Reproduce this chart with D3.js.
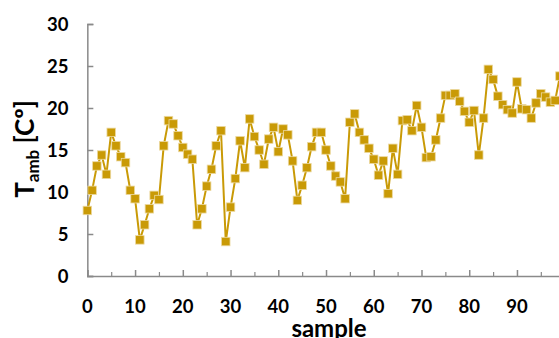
<!DOCTYPE html>
<html>
<head>
<meta charset="utf-8">
<script src="https://cdn.jsdelivr.net/npm/d3@7"></script>
<style>
  html, body { margin: 0; padding: 0; background: #fff; }
  svg { display: block; }
  text { font-family: Lato, "Open Sans", sans-serif; font-weight: bold; fill: #000; }
</style>
</head>
<body>
<svg id="chart" width="559" height="338"></svg>
<script>
// Data
const samples = d3.range(0, 100);
const tamb = [
  7.8, 10.2, 13.1, 14.4, 12.1, 17.1, 15.5, 14.2, 13.5, 10.2,
  9.2, 4.3, 6.1, 8.0, 9.6, 9.1, 15.5, 18.5, 18.1, 16.7,
  15.3, 14.5, 13.9, 6.1, 8.0, 10.7, 12.7, 15.5, 17.3, 4.1,
  8.2, 11.6, 16.1, 12.9, 18.7, 16.6, 15.0, 13.3, 16.3, 17.7,
  14.8, 17.5, 16.8, 13.7, 9.0, 10.8, 12.9, 15.4, 17.1, 17.1,
  15.0, 13.1, 11.9, 11.2, 9.2, 18.3, 19.3, 17.1, 16.2, 15.2,
  13.9, 12.0, 13.7, 9.8, 15.2, 12.1, 18.5, 18.6, 17.3, 20.3,
  17.7, 14.1, 14.2, 16.2, 18.8, 21.5, 21.5, 21.7, 20.8, 19.6,
  18.3, 19.7, 14.4, 18.8, 24.6, 23.4, 21.4, 20.4, 19.8, 19.4,
  23.1, 19.9, 19.8, 18.8, 20.6, 21.7, 21.3, 20.7, 20.9, 23.8
];
const yTicks = [0, 5, 10, 15, 20, 25, 30];
const xMajorTicks = [0, 10, 20, 30, 40, 50, 60, 70, 80, 90, 100];
const xMinorTicks = [5, 15, 25, 35, 45, 55, 65, 75, 85, 95];
const xTitle = "sample";

const svg = d3.select("#chart");
const x = d3.scaleLinear().domain([0, 100]).range([87.33, 564.7]);
const y = d3.scaleLinear().domain([0, 30]).range([276, 24]);

const axisColor = "#8a8a8a";
const markColor = "#C99A06";

// Y axis (ticks inward)
const yAxis = svg.append("g").attr("transform", `translate(${x(0)},0)`)
  .call(d3.axisRight(y).tickValues(yTicks).tickSize(6).tickFormat(""));
yAxis.select(".domain").attr("stroke", axisColor).attr("stroke-width", 1.5);
yAxis.selectAll(".tick line").attr("stroke", axisColor).attr("stroke-width", 1.5);

// Y tick labels
svg.append("g").selectAll("text").data(yTicks).join("text")
  .attr("x", 68.5).attr("y", d => y(d)).attr("dy", "0.36em")
  .attr("text-anchor", "end").style("font-size", "18.5px")
  .text(d => d);

// X axis (ticks inward)
const xa = svg.append("g").attr("transform", `translate(0,${y(0)})`)
  .call(d3.axisTop(x).tickValues(xMajorTicks).tickSize(6).tickFormat(""));
xa.select(".domain").attr("stroke", axisColor).attr("stroke-width", 1.5);
xa.selectAll(".tick line").attr("stroke", axisColor).attr("stroke-width", 1.5);
const xm = svg.append("g").attr("transform", `translate(0,${y(0)})`)
  .call(d3.axisTop(x).tickValues(xMinorTicks).tickSize(4).tickFormat(""));
xm.select(".domain").remove();
xm.selectAll(".tick line").attr("stroke", axisColor).attr("stroke-width", 1.2);

// X tick labels
svg.append("g").selectAll("text").data(xMajorTicks.filter(d => d <= 90)).join("text")
  .attr("x", d => x(d)).attr("y", 313)
  .attr("text-anchor", "middle").style("font-size", "18.5px")
  .text(d => d);

// X title
svg.append("text").attr("x", 329).attr("y", 337)
  .attr("text-anchor", "middle").style("font-size", "24px").text(xTitle);

// Y title
const yt = svg.append("text")
  .attr("transform", "translate(34,149) rotate(-90)")
  .attr("text-anchor", "middle").style("font-size", "26px");
yt.append("tspan").text("T");
yt.append("tspan").attr("dy", 5).style("font-size", "17px").text("amb");
yt.append("tspan").attr("dy", -5).text(" [Cº]");

// Line
const pts = samples.map((s, i) => [s, tamb[i]]);
svg.append("path").datum(pts)
  .attr("fill", "none").attr("stroke", markColor).attr("stroke-width", 2)
  .attr("d", d3.line().x(d => x(d[0])).y(d => y(d[1])));

// Markers
const ms = 8.5;
svg.append("g").selectAll("rect").data(pts).join("rect")
  .attr("x", d => x(d[0]) - ms / 2).attr("y", d => y(d[1]) - ms / 2)
  .attr("width", ms).attr("height", ms)
  .attr("fill", markColor).attr("stroke", "#ecd9a0").attr("stroke-width", 0.8);
</script>
</body>
</html>
